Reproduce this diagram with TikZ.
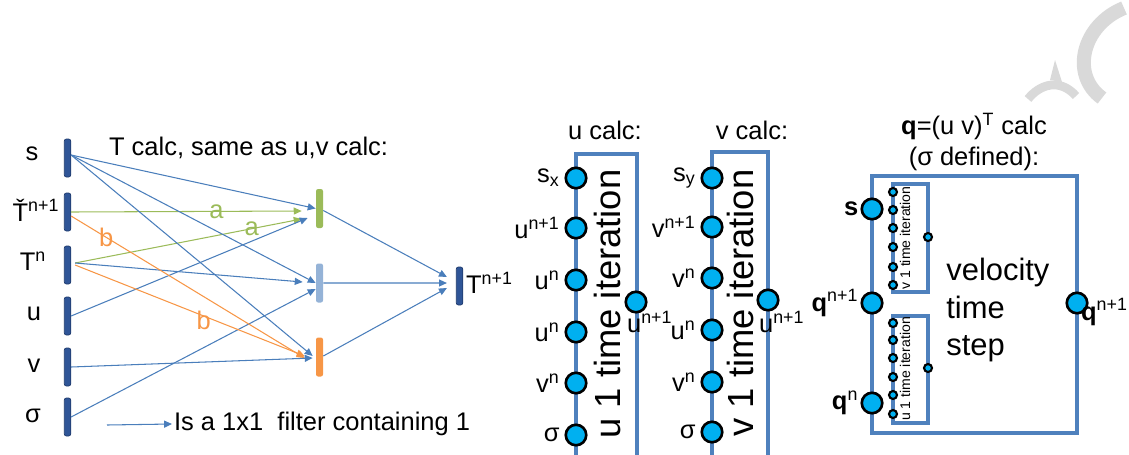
\documentclass[tikz,border=0pt]{standalone}
\usepackage{fontspec}
\setmainfont{Liberation Sans}
\usetikzlibrary{arrows.meta}
\definecolor{barblue}{RGB}{47,85,151}
\definecolor{bardark}{RGB}{32,60,110}
\definecolor{lineblue}{RGB}{74,126,187}
\definecolor{lgreen}{RGB}{155,187,89}
\definecolor{lorange}{RGB}{247,150,70}
\definecolor{lblue}{RGB}{149,179,215}
\definecolor{boxblue}{RGB}{79,129,189}
\definecolor{portcyan}{RGB}{0,176,240}
\definecolor{wmgray}{RGB}{217,217,217}
\begin{document}
\begin{tikzpicture}[x=0.02cm,y=-0.02cm,
  bar/.style={rectangle,rounded corners=1.2pt,minimum width=0.13cm,minimum height=0.76cm,inner sep=0pt,fill=barblue,draw=bardark,line width=0.4pt},
  midbar/.style={rectangle,rounded corners=1.2pt,minimum width=0.14cm,minimum height=0.78cm,inner sep=0pt,fill=#1,draw=none},
  conn/.style={line width=0.6pt,draw=lineblue,-{Triangle[length=4.5pt,width=4pt]}},
  lbl/.style={font=\fontsize{14.5}{17}\selectfont,inner sep=1pt},
  plbl/.style={font=\fontsize{14.5}{17}\selectfont,inner sep=2.5pt},
  elbl/.style={font=\fontsize{14.5}{17}\selectfont,inner sep=0pt,text=#1},
  port/.style={circle,fill=portcyan,draw=black,line width=1.5pt,minimum size=0.41cm,inner sep=0pt},
  sport/.style={circle,fill=portcyan,draw=black,line width=1.2pt,minimum size=0.16cm,inner sep=0pt},
  boxline/.style={draw=boxblue,line width=1.9pt},
  bigrot/.style={rotate=90,font=\fontsize{20.7}{24}\selectfont,inner sep=0pt},
  smallrot/.style={rotate=90,font=\fontsize{8}{9}\selectfont,inner sep=0pt}
]
\useasboundingbox (0,0) rectangle (1129,454);

% watermark fragment
\draw[wmgray,line width=8pt,line cap=butt] (1124,8) .. controls (1082,25) and (1070,75) .. (1102,98);
\draw[wmgray,line width=5pt] (1028,99) .. controls (1040,84) and (1060,78) .. (1076,96);
\fill[wmgray] (1050,80) -- (1055,60) -- (1062,82) -- cycle;

% ---------------- left part: T calc ----------------
\node[lbl,anchor=west] (ttitle) at (107,148) {T calc, same as u,v calc:};

\node[bar] (s)  at (67.5,158) {};
\node[bar] (tc) at (67.5,212) {};
\node[bar] (tn) at (67.5,265) {};
\node[bar] (u)  at (67.5,316) {};
\node[bar] (v)  at (67.5,367) {};
\node[bar] (sg) at (67.5,417) {};

\node[lbl] (ls)  at (32,154) {s};
\node[lbl] (ltc) at (36,210) {Ť\textsuperscript{n+1}};
\node[lbl] (ltn) at (33,261) {T\textsuperscript{n}};
\node[lbl] (lu)  at (34,314) {u};
\node[lbl] (lv)  at (34,366) {v};
\node[lbl] (lsg) at (33,416) {σ};

\node[midbar=lgreen] (g)  at (319.5,208.5) {};
\node[midbar=lblue]  (lb) at (319.5,283) {};
\node[midbar=lorange] (o) at (319.5,357) {};

\node[bar] (tnp) at (459.5,286) {};
\node[lbl,anchor=west] (ltnp) at (464,283) {T\textsuperscript{n+1}};

% into green bar
\draw[conn] ([yshift=0.06cm]s.east) -- (g.west);
\draw[conn,draw=lgreen] (tc.east) -- node[elbl=lgreen,pos=0.63] {a} ([xshift=-0.28cm,yshift=-0.05cm]g.west);
\draw[conn,draw=lgreen] ([xshift=0.08cm,yshift=0.04cm]tn.east) -- node[elbl=lgreen,pos=0.78] {a} ([xshift=-0.28cm,yshift=-0.21cm]g.west);
\draw[conn] (u.east) -- ([xshift=-0.16cm,yshift=-0.19cm]g.west);
% into light blue bar
\draw[conn] ([yshift=0.06cm]s.east) -- (lb.west);
\draw[conn] ([xshift=0.08cm,yshift=0.04cm]tn.east) -- ([xshift=-0.26cm,yshift=0.02cm]lb.west);
\draw[conn] (sg.east) -- ([yshift=-0.12cm]lb.west);
% into orange bar
\draw[conn] ([yshift=0.06cm]s.east) -- ([xshift=-0.06cm,yshift=0.02cm]o.west);
\draw[conn,draw=lorange] ([yshift=-0.08cm]tc.east) -- node[elbl=lorange,pos=0.15] {b} ([xshift=-0.22cm,yshift=-0.02cm]o.west);
\draw[conn,draw=lorange] ([xshift=0.08cm]tn.east) -- node[elbl=lorange,pos=0.56,yshift=-0.08cm] {b} ([xshift=-0.22cm,yshift=0.02cm]o.west);
\draw[conn] (v.east) -- ([xshift=-0.06cm,yshift=-0.02cm]o.west);
% into T^{n+1}
\draw[conn] ([yshift=-0.04cm]g.east) -- ([xshift=-0.18cm,yshift=0.18cm]tnp.west);
\draw[conn] (lb.east) -- ([xshift=-0.18cm,yshift=0.06cm]tnp.west);
\draw[conn] ([yshift=0.02cm]o.east) -- ([xshift=-0.18cm,yshift=-0.04cm]tnp.west);

% legend
\coordinate (leg) at (107,425);
\node[lbl,anchor=west] (legtext) at (172,424) {Is a 1x1 \ filter containing 1};
\draw[conn] (leg) -- (legtext.west);

% ---------------- u calc ----------------
\node[lbl] (utitle) at (605,130) {u calc:};
\draw[boxline] (576,456) -- (576,154) -- (637,154) -- (637,456);
\node[bigrot] (utext) at (607,304) {u 1 time iteration};
\foreach \n/\y in {1/178,2/228,3/280,4/332,5/383,6/435}
  \node[port] (up\n) at (576,\y) {};
\node[port] (uout) at (636,302) {};
\node[plbl,anchor=east] (lup1) at (up1.west) {s\textsubscript{x}};
\node[plbl,anchor=east] (lup2) at (up2.west) {u\textsuperscript{n+1}};
\node[plbl,anchor=east] (lup3) at (up3.west) {u\textsuperscript{n}};
\node[plbl,anchor=east] (lup4) at (up4.west) {u\textsuperscript{n}};
\node[plbl,anchor=east] (lup5) at (up5.west) {v\textsuperscript{n}};
\node[plbl,anchor=east] (lup6) at (up6.west) {σ};
\node[lbl,anchor=west] (luout) at (625,322) {u\textsuperscript{n+1}};

% ---------------- v calc ----------------
\node[lbl] (vtitle) at (752,130) {v calc:};
\draw[boxline] (712,456) -- (712,152) -- (768,152) -- (768,456);
\node[bigrot] (vtext) at (740,303) {v 1 time iteration};
\foreach \n/\y in {1/178,2/227,3/278,4/330,5/382,6/432}
  \node[port] (vp\n) at (712,\y) {};
\node[port] (vout) at (768,300) {};
\node[plbl,anchor=east] (lvp1) at (vp1.west) {s\textsubscript{y}};
\node[plbl,anchor=east] (lvp2) at (vp2.west) {v\textsuperscript{n+1}};
\node[plbl,anchor=east] (lvp3) at (vp3.west) {v\textsuperscript{n}};
\node[plbl,anchor=east] (lvp4) at (vp4.west) {u\textsuperscript{n}};
\node[plbl,anchor=east] (lvp5) at (vp5.west) {v\textsuperscript{n}};
\node[plbl,anchor=east] (lvp6) at (vp6.west) {σ};
\node[lbl,anchor=west] (lvout) at (757,322) {u\textsuperscript{n+1}};

% ---------------- q calc ----------------
\node[lbl,align=center,font=\fontsize{14.5}{17.5}\selectfont] (qtitle) at (974,142) {\textbf{q}=(u v)\textsuperscript{T} calc\\(σ defined):};
\draw[boxline] (872,176) rectangle (1077,433);
\draw[boxline] (893,184) rectangle (928,292);
\draw[boxline] (893,316) rectangle (928,423);
\node[smallrot] (vsmall) at (905,238) {v 1 time iteration};
\node[smallrot] (usmall) at (905,369) {u 1 time iteration};
\foreach \n/\y in {1/192,2/210,3/228,4/247,5/267,6/285}
  \node[sport] (tv\n) at (893,\y) {};
\node[sport] (tvout) at (928,237) {};
\foreach \n/\y in {1/323,2/340,3/358,4/377,5/395,6/414}
  \node[sport] (bu\n) at (893,\y) {};
\node[sport] (buout) at (928,368) {};
\node[port] (qs)   at (872,209) {};
\node[port] (qn1)  at (872,303) {};
\node[port] (qn)   at (872,403) {};
\node[port] (qout) at (1077,303) {};
\node[lbl,anchor=east] (lqs)  at (qs.west)  {\textbf{s}};
\node[lbl,anchor=east] (lqn1) at (qn1.west) {\textbf{q}\textsuperscript{n+1}};
\node[lbl,anchor=east] (lqn)  at (qn.west)  {\textbf{q}\textsuperscript{n}};
\node[lbl,anchor=west] (lqout) at (1079,312) {\textbf{q}\textsuperscript{n+1}};
\node[anchor=west,align=left,inner sep=0pt,font=\fontsize{17.6}{21.3}\selectfont] (vts) at (946,310) {velocity\\time\\step};
\end{tikzpicture}
\end{document}
